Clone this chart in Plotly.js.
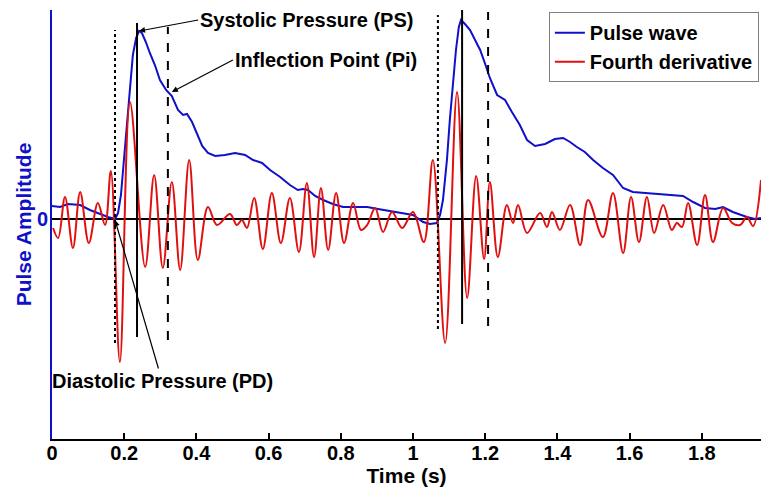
<!DOCTYPE html>
<html>
<head>
<meta charset="utf-8">
<script src="https://cdn.plot.ly/plotly-3.0.1.min.js"></script>
<style>html,body{margin:0;padding:0;background:#fff;}#chart{width:761px;height:487px;}</style>
</head>
<body>
<div id="chart"></div>
<script>
// Pulse wave (time in s, amplitude in arbitrary units)
const pulseTime = [0,0.022,0.044,0.078,0.105,0.133,0.155,0.175,0.183,0.191,0.199,0.208,0.216,0.224,0.233,0.241,0.249,0.260,0.271,0.285,0.299,0.316,0.332,0.349,0.363,0.374,0.388,0.402,0.416,0.432,0.452,0.479,0.507,0.535,0.557,0.582,0.604,0.632,0.659,0.681,0.695,0.709,0.729,0.751,0.778,0.806,0.839,0.873,0.903,0.936,0.964,1.000,1.028,1.047,1.066,1.075,1.083,1.094,1.102,1.111,1.119,1.127,1.133,1.144,1.158,1.172,1.186,1.199,1.213,1.233,1.255,1.274,1.296,1.316,1.338,1.366,1.393,1.416,1.435,1.454,1.476,1.499,1.526,1.554,1.582,1.609,1.643,1.670,1.704,1.748,1.776,1.809,1.837,1.859,1.886,1.925,1.947,1.964];
const pulseAmp = [0.13,0.12,0.15,0.14,0.09,0.05,0.02,0.00,0.06,0.24,0.59,0.99,1.34,1.64,1.81,1.88,1.86,1.77,1.66,1.54,1.39,1.29,1.23,1.09,1.04,1.05,0.97,0.84,0.73,0.66,0.63,0.64,0.66,0.64,0.59,0.56,0.49,0.42,0.34,0.29,0.30,0.29,0.23,0.19,0.15,0.12,0.12,0.12,0.10,0.08,0.06,0.04,-0.03,-0.05,-0.04,0.04,0.19,0.59,0.99,1.39,1.69,1.92,1.99,1.95,1.89,1.79,1.69,1.56,1.41,1.24,1.19,1.07,0.94,0.79,0.73,0.75,0.80,0.81,0.77,0.72,0.67,0.59,0.51,0.44,0.31,0.27,0.26,0.25,0.24,0.23,0.17,0.11,0.10,0.12,0.07,0.02,0.00,0.01];

// Fourth derivative (time in s, amplitude in arbitrary units)
const derivTime = [0.003,0.017,0.036,0.058,0.078,0.102,0.127,0.147,0.163,0.188,0.216,0.258,0.283,0.307,0.332,0.355,0.380,0.404,0.432,0.457,0.493,0.512,0.526,0.540,0.560,0.584,0.609,0.634,0.659,0.684,0.706,0.726,0.745,0.765,0.787,0.809,0.834,0.856,0.873,0.895,0.917,0.942,0.970,1.000,1.030,1.055,1.089,1.122,1.150,1.175,1.197,1.213,1.235,1.260,1.277,1.291,1.316,1.352,1.371,1.385,1.407,1.435,1.463,1.485,1.526,1.554,1.582,1.604,1.626,1.648,1.668,1.693,1.717,1.731,1.745,1.762,1.787,1.809,1.831,1.859,1.884,1.906,1.925,1.942,1.964];
const derivAmp = [-0.09,-0.19,0.22,-0.29,0.27,-0.24,0.16,-0.06,0.48,-1.43,1.17,-0.48,0.44,-0.49,0.37,-0.51,0.59,-0.41,0.12,-0.06,0.05,-0.06,-0.01,-0.09,0.21,-0.30,0.26,-0.24,0.21,-0.33,0.36,-0.38,0.31,-0.31,0.26,-0.24,0.16,-0.11,-0.06,0.11,-0.13,0.07,-0.09,0.07,-0.23,0.59,-1.24,1.27,-0.79,0.43,-0.40,0.37,-0.38,0.14,-0.04,0.14,-0.14,0.06,-0.08,0.07,-0.11,0.14,-0.26,0.19,-0.18,0.26,-0.34,0.22,-0.23,0.22,-0.14,0.14,-0.11,-0.04,-0.08,0.16,-0.26,0.24,-0.23,0.11,-0.04,-0.06,0.02,-0.07,0.39];

// Reference markers: onset (dotted), systolic peak (solid), inflection (dashed)
const markerTimes = [0.1745,0.2355,0.321,1.069,1.136,1.208];
const markerDash = ['dot','solid','dash','dot','solid','dash'];
const markerTop = [1.89,1.96,1.92,2.04,2.09,2.07];
const markerBottom = [-1.24,-1.18,-1.21,-1.10,-1.05,-1.07];

const xTicks = [0,0.2,0.4,0.6,0.8,1,1.2,1.4,1.6,1.8];
const xTickText = ['0','0.2','0.4','0.6','0.8','1','1.2','1.4','1.6','1.8'];

const FONT = 'Liberation Sans, Arial, sans-serif';
const BLUE = '#1010c8';
const RED = '#e01010';

const traces = [
  {x: pulseTime, y: pulseAmp, type: 'scatter', mode: 'lines', name: 'Pulse wave',
   line: {color: BLUE, width: 2}},
  {x: derivTime, y: derivAmp, type: 'scatter', mode: 'lines', name: 'Fourth derivative',
   line: {color: RED, width: 2, shape: 'spline', smoothing: 1}}
];

const shapes = markerTimes.map((t, i) => ({
  type: 'line', xref: 'x', yref: 'y', x0: t, x1: t, y0: markerBottom[i], y1: markerTop[i],
  line: {color: 'black', width: 2, dash: markerDash[i]}, layer: 'above'
}));

const annFont = {family: FONT, size: 20, weight: 'bold', color: 'black'};
const annotations = [
  {text: 'Systolic Pressure (PS)', x: 0.241, y: 1.88, ax: 0.405, ay: 1.99, axref: 'x', ayref: 'y',
   xanchor: 'left', yanchor: 'middle', showarrow: true, arrowhead: 2, arrowsize: 1, arrowwidth: 1.2, arrowcolor: 'black', font: annFont},
  {text: 'Inflection Point (Pi)', x: 0.332, y: 1.27, ax: 0.501, ay: 1.59, axref: 'x', ayref: 'y',
   xanchor: 'left', yanchor: 'middle', showarrow: true, arrowhead: 2, arrowsize: 1, arrowwidth: 1.2, arrowcolor: 'black', font: annFont},
  {text: 'Diastolic Pressure (PD)', x: 0.1745, y: -0.01, ax: 0.305, ay: -1.62, axref: 'x', ayref: 'y',
   xanchor: 'center', yanchor: 'middle', showarrow: true, arrowhead: 2, arrowsize: 1, arrowwidth: 1.2, arrowcolor: 'black', font: annFont}
];

const layout = {
  width: 761, height: 487,
  margin: {l: 52, r: 0, t: 10, b: 48},
  paper_bgcolor: 'white', plot_bgcolor: 'white',
  showlegend: true,
  legend: {x: 0.997, y: 0.995, xanchor: 'right', yanchor: 'top',
    bgcolor: 'white', bordercolor: '#808080', borderwidth: 1,
    font: {family: FONT, size: 20, weight: 'bold', color: 'black'},
    itemwidth: 30, tracegroupgap: 0},
  xaxis: {range: [0, 1.964], showline: true, linecolor: 'black', linewidth: 2,
    ticks: 'inside', ticklen: 6, tickwidth: 2, tickcolor: 'black',
    tickvals: xTicks, ticktext: xTickText, showgrid: false, zeroline: false,
    ticklabelstandoff: -5,
    tickfont: {family: FONT, size: 20, weight: 'bold', color: 'black'},
    title: {text: 'Time (s)', font: {family: FONT, size: 21, weight: 'bold', color: 'black'}, standoff: 2}},
  yaxis: {range: [-2.2, 2.09], showline: true, linecolor: BLUE, linewidth: 2,
    ticks: '', tickvals: [0], ticktext: ['0'], showgrid: false,
    zeroline: true, zerolinecolor: 'black', zerolinewidth: 2,
    ticklabelstandoff: -2,
    tickfont: {family: FONT, size: 20, weight: 'bold', color: BLUE},
    title: {text: 'Pulse Amplitude', font: {family: FONT, size: 21, weight: 'bold', color: BLUE}, standoff: 0}},
  shapes: shapes,
  annotations: annotations
};

Plotly.newPlot('chart', traces, layout, {displayModeBar: false, staticPlot: true});
</script>
</body>
</html>
